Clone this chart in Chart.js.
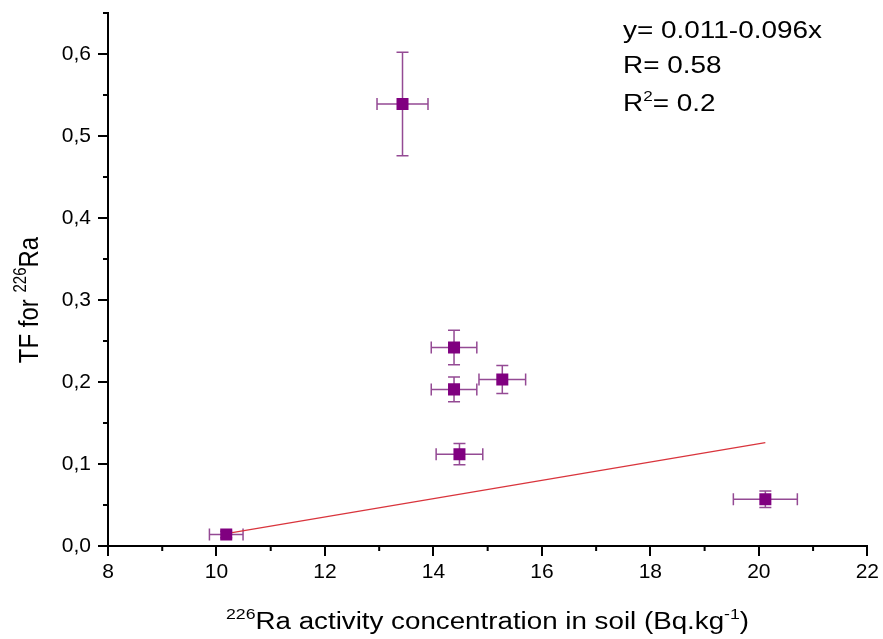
<!DOCTYPE html>
<html>
<head>
<meta charset="utf-8">
<script src="https://cdn.jsdelivr.net/npm/chart.js@4.4.1/dist/chart.umd.min.js"></script>
<style>
  html, body { margin: 0; padding: 0; background: #fff; }
  #wrap { width: 883px; height: 639px; }
</style>
</head>
<body>
<div id="wrap"><canvas id="chart"></canvas></div>
<script>
// data
const xValues = [10.18, 13.43, 14.38, 14.38, 15.27, 14.48, 20.12];
const yValues = [0.014, 0.539, 0.242, 0.191, 0.203, 0.112, 0.057];
const xErrors = [0.31, 0.47, 0.42, 0.42, 0.43, 0.43, 0.59];
const yErrors = [0.004, 0.063, 0.021, 0.015, 0.017, 0.013, 0.010];

// fitted line (end points)
const fitX = [10.18, 20.12];
const fitY = [0.015, 0.126];

// ticks
const xTicks = [8, 10, 12, 14, 16, 18, 20, 22];
const xMinorTicks = [9, 11, 13, 15, 17, 19, 21];
const yTicks = [0, 0.1, 0.2, 0.3, 0.4, 0.5, 0.6];
const yMinorTicks = [0.05, 0.15, 0.25, 0.35, 0.45, 0.55, 0.65];

const fitText = ["y= 0.011-0.096x", "R= 0.58", "0.2"];

const FONT = "Arial, 'Liberation Sans', sans-serif";
const purple = "#800080";
const errColor = "#944a94";

// draw text pieces with superscripts, returns total width
function pieces(ctx, parts, size, measureOnly, x, y) {
    let w = 0;
    parts.forEach(p => {
        const s = p.sup ? Math.round(size * 0.62) : size;
        ctx.font = s + "px " + FONT;
        const pw = ctx.measureText(p.t).width;
        if (!measureOnly) ctx.fillText(p.t, x + w, p.sup ? y - size * 0.42 : y);
        w += pw;
    });
    return w;
}

// error bars, drawn before the markers
const errorBars = {
    id: "errorBars",
    beforeDatasetsDraw(chart) {
        const ctx = chart.ctx;
        const xs = chart.scales.x, ys = chart.scales.y;
        const cap = 6;
        ctx.save();
        ctx.strokeStyle = errColor;
        ctx.lineWidth = 1.5;
        xValues.forEach((xv, i) => {
            const px = xs.getPixelForValue(xv), py = ys.getPixelForValue(yValues[i]);
            const x1 = xs.getPixelForValue(xv - xErrors[i]), x2 = xs.getPixelForValue(xv + xErrors[i]);
            const y1 = ys.getPixelForValue(yValues[i] - yErrors[i]), y2 = ys.getPixelForValue(yValues[i] + yErrors[i]);
            ctx.beginPath();
            ctx.moveTo(x1, py); ctx.lineTo(x2, py);
            ctx.moveTo(x1, py - cap); ctx.lineTo(x1, py + cap);
            ctx.moveTo(x2, py - cap); ctx.lineTo(x2, py + cap);
            ctx.moveTo(px, y1); ctx.lineTo(px, y2);
            ctx.moveTo(px - cap, y1); ctx.lineTo(px + cap, y1);
            ctx.moveTo(px - cap, y2); ctx.lineTo(px + cap, y2);
            ctx.stroke();
        });
        ctx.restore();
    }
};

// minor ticks, axis titles and fit text
const extras = {
    id: "extras",
    afterDraw(chart) {
        const ctx = chart.ctx;
        const a = chart.chartArea;
        const xs = chart.scales.x, ys = chart.scales.y;
        ctx.save();
        ctx.strokeStyle = "#000";
        ctx.lineWidth = 2;
        ctx.beginPath();
        xMinorTicks.forEach(v => {
            const p = xs.getPixelForValue(v);
            ctx.moveTo(p, a.bottom); ctx.lineTo(p, a.bottom + 5);
        });
        yMinorTicks.forEach(v => {
            const p = ys.getPixelForValue(v);
            ctx.moveTo(a.left, p); ctx.lineTo(a.left - 5, p);
        });
        ctx.stroke();

        ctx.fillStyle = "#000";
        ctx.textBaseline = "alphabetic";
        ctx.textAlign = "left";

        // x title (the original text is a bit wide)
        const xParts = [{t: "226", sup: true}, {t: "Ra activity concentration in soil (Bq.kg"}, {t: "-1", sup: true}, {t: ")"}];
        const xw = pieces(ctx, xParts, 23.5, true);
        ctx.save();
        ctx.translate(487.5, 629);
        ctx.scale(1.18, 1);
        pieces(ctx, xParts, 23.5, false, -xw / 2, 0);
        ctx.restore();

        // y title
        const yParts = [{t: "TF for "}, {t: "226", sup: true}, {t: "Ra"}];
        const yw = pieces(ctx, yParts, 24, true);
        ctx.save();
        ctx.translate(38, 300);
        ctx.rotate(-Math.PI / 2);
        ctx.scale(1, 1.17);
        pieces(ctx, yParts, 24, false, -yw / 2, 0);
        ctx.restore();

        // fit text
        ctx.save();
        ctx.translate(623, 0);
        ctx.scale(1.14, 1);
        pieces(ctx, [{t: fitText[0]}], 24.5, false, 0, 38);
        pieces(ctx, [{t: fitText[1]}], 24.5, false, 0, 73);
        pieces(ctx, [{t: "R"}, {t: "2", sup: true}, {t: "= " + fitText[2]}], 24.5, false, 0, 111);
        ctx.restore();
        ctx.restore();
    }
};

const ctx = document.getElementById("chart").getContext("2d");

new Chart(ctx, {
    type: "scatter",
    data: {
        datasets: [{
            type: "line",
            data: fitX.map((x, i) => ({x: x, y: fitY[i]})),
            borderColor: "#d9343c",
            borderWidth: 1.2,
            pointRadius: 0,
            fill: false,
            order: 2
        }, {
            data: xValues.map((x, i) => ({x: x, y: yValues[i]})),
            pointStyle: "rect",
            pointRadius: 8.5,
            backgroundColor: purple,
            borderColor: purple,
            borderWidth: 0,
            order: 1
        }]
    },
    options: {
        responsive: true,
        maintainAspectRatio: false,
        animation: false,
        layout: { padding: { top: 13, right: 15, left: 0, bottom: 0 } },
        plugins: { legend: { display: false }, tooltip: { enabled: false } },
        scales: {
            x: {
                type: "linear",
                min: 8, max: 22,
                afterBuildTicks: s => { s.ticks = xTicks.map(v => ({value: v})); },
                afterFit: s => { s.height = 93; },
                border: { color: "#000", width: 2 },
                grid: { drawOnChartArea: false, color: "#000", lineWidth: 2, tickLength: 10 },
                ticks: { color: "#000", padding: 4, font: { family: FONT, size: 21 } }
            },
            y: {
                type: "linear",
                min: 0, max: 0.65,
                afterBuildTicks: s => { s.ticks = yTicks.map(v => ({value: v})); },
                afterFit: s => { s.width = 108; s.paddingTop = 0; s.paddingBottom = 0; },
                border: { color: "#000", width: 2 },
                grid: { drawOnChartArea: false, color: "#000", lineWidth: 2, tickLength: 10 },
                ticks: {
                    color: "#000", padding: 7, font: { family: FONT, size: 21 },
                    callback: v => v.toFixed(1).replace(".", ",")
                }
            }
        }
    },
    plugins: [errorBars, extras]
});
</script>
</body>
</html>
